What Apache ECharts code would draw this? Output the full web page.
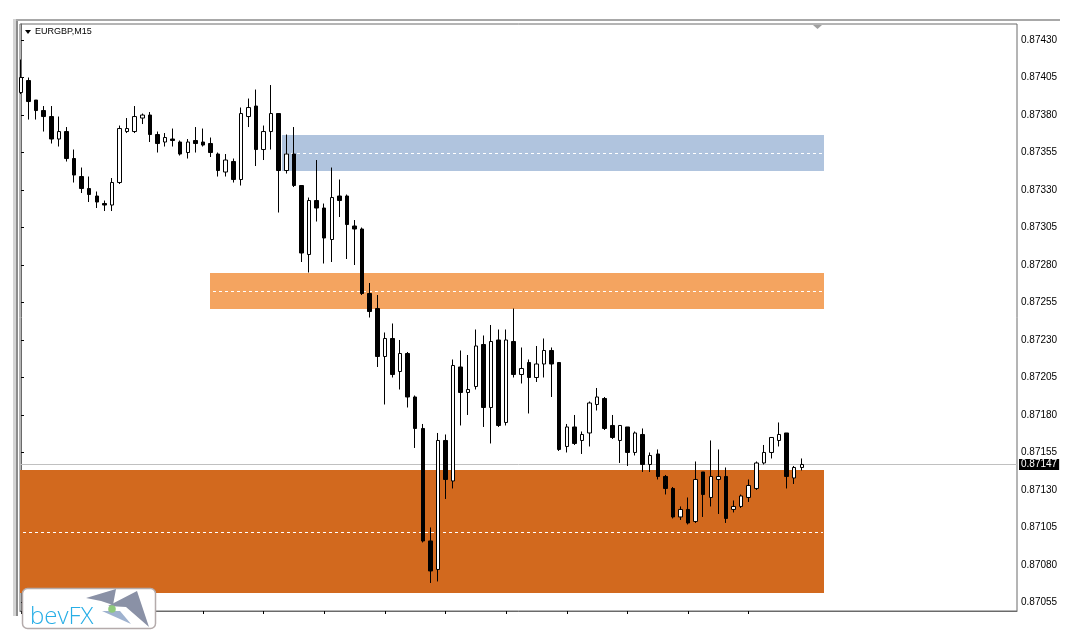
<!DOCTYPE html>
<html>
<head>
<meta charset="utf-8">
<script src="https://cdn.jsdelivr.net/npm/echarts@6/dist/echarts.min.js"></script>
<style>
html,body{margin:0;padding:0;background:#fff;}
#chart{width:1075px;height:640px;}
</style>
</head>
<body>
<div id="chart"></div>
<script>
// ---- data (EURGBP M15) ----
const symbol = 'EURGBP,M15';
const opens  = [0.87395,0.87403,0.87390,0.87383,0.87379,0.87364,0.87369,0.87351,0.87339,0.87331,0.87326,0.87321,0.87320,0.87335,0.87369,0.87369,0.87378,0.87380,0.87367,0.87362,0.87364,0.87362,0.87355,0.87363,0.87362,0.87361,0.87354,0.87342,0.87349,0.87337,0.87379,0.87386,0.87357,0.87369,0.87381,0.87343,0.87354,0.87333,0.87287,0.87323,0.87318,0.87297,0.87326,0.87326,0.87306,0.87304,0.87261,0.87251,0.87219,0.87231,0.87209,0.87221,0.87192,0.87171,0.87096,0.87077,0.87163,0.87136,0.87212,0.87195,0.87199,0.87227,0.87185,0.87230,0.87175,0.87229,0.87207,0.87215,0.87205,0.87214,0.87223,0.87215,0.87159,0.87172,0.87163,0.87168,0.87187,0.87191,0.87173,0.87163,0.87172,0.87155,0.87167,0.87147,0.87154,0.87139,0.87131,0.87112,0.87117,0.87109,0.87142,0.87125,0.87137,0.87139,0.87117,0.87119,0.87125,0.87131,0.87148,0.87155,0.87163,0.87168,0.87138,0.87145];
const highs  = [0.87417,0.87405,0.87390,0.87386,0.87386,0.87379,0.87372,0.87357,0.87345,0.87339,0.87329,0.87323,0.87338,0.87373,0.87378,0.87386,0.87381,0.87382,0.87369,0.87368,0.87371,0.87363,0.87364,0.87372,0.87371,0.87365,0.87355,0.87354,0.87351,0.87385,0.87391,0.87397,0.87373,0.87400,0.87381,0.87367,0.87372,0.87333,0.87325,0.87350,0.87321,0.87345,0.87337,0.87327,0.87310,0.87305,0.87268,0.87260,0.87235,0.87241,0.87230,0.87222,0.87193,0.87174,0.87105,0.87168,0.87167,0.87217,0.87223,0.87220,0.87237,0.87233,0.87240,0.87237,0.87237,0.87251,0.87225,0.87217,0.87226,0.87231,0.87225,0.87215,0.87174,0.87180,0.87169,0.87189,0.87198,0.87192,0.87180,0.87173,0.87172,0.87169,0.87171,0.87155,0.87157,0.87140,0.87132,0.87119,0.87125,0.87149,0.87142,0.87163,0.87157,0.87145,0.87123,0.87127,0.87137,0.87149,0.87160,0.87165,0.87175,0.87168,0.87146,0.87151];
const lows   = [0.87394,0.87377,0.87377,0.87369,0.87361,0.87359,0.87349,0.87335,0.87328,0.87322,0.87318,0.87316,0.87316,0.87334,0.87368,0.87368,0.87374,0.87362,0.87355,0.87359,0.87359,0.87353,0.87351,0.87355,0.87359,0.87352,0.87339,0.87339,0.87335,0.87333,0.87372,0.87346,0.87350,0.87357,0.87315,0.87341,0.87332,0.87282,0.87275,0.87309,0.87281,0.87282,0.87312,0.87284,0.87280,0.87260,0.87245,0.87212,0.87187,0.87205,0.87197,0.87185,0.87158,0.87095,0.87068,0.87069,0.87124,0.87131,0.87173,0.87180,0.87197,0.87172,0.87161,0.87172,0.87173,0.87205,0.87201,0.87181,0.87202,0.87205,0.87192,0.87156,0.87155,0.87160,0.87154,0.87159,0.87183,0.87170,0.87164,0.87148,0.87146,0.87153,0.87142,0.87142,0.87137,0.87127,0.87111,0.87110,0.87107,0.87108,0.87112,0.87119,0.87114,0.87108,0.87115,0.87118,0.87122,0.87130,0.87147,0.87151,0.87159,0.87131,0.87134,0.87143];
const closes = [0.87405,0.87389,0.87383,0.87379,0.87364,0.87369,0.87351,0.87340,0.87331,0.87327,0.87322,0.87320,0.87335,0.87371,0.87371,0.87379,0.87380,0.87367,0.87361,0.87365,0.87363,0.87354,0.87362,0.87361,0.87360,0.87355,0.87343,0.87350,0.87337,0.87381,0.87385,0.87357,0.87369,0.87381,0.87343,0.87354,0.87333,0.87288,0.87323,0.87318,0.87298,0.87325,0.87323,0.87307,0.87304,0.87261,0.87249,0.87219,0.87231,0.87207,0.87221,0.87192,0.87171,0.87096,0.87076,0.87163,0.87137,0.87213,0.87195,0.87197,0.87226,0.87185,0.87229,0.87173,0.87230,0.87207,0.87211,0.87205,0.87214,0.87223,0.87214,0.87157,0.87172,0.87161,0.87167,0.87188,0.87192,0.87171,0.87165,0.87173,0.87155,0.87168,0.87147,0.87153,0.87139,0.87131,0.87112,0.87117,0.87108,0.87137,0.87127,0.87139,0.87139,0.87111,0.87119,0.87126,0.87133,0.87148,0.87155,0.87165,0.87167,0.87139,0.87145,0.87147];

// price-axis tick labels
const yTicks = [0.87055,0.87080,0.87105,0.87130,0.87155,0.87180,0.87205,0.87230,0.87255,0.87280,0.87305,0.87330,0.87355,0.87380,0.87405,0.87430];
// time-axis tick marks (bar indices)
const xTicks = [0,8,16,24,32,40,48,56,64,72,80,88,96];

// rectangles (support / resistance zones): bar index start/end, low, high, mid
const zoneStart = [34.45, 24.95, -2];
const zoneEnd   = [105.9, 105.9, 105.9];
const zoneLow   = [0.87343, 0.87251, 0.87061];
const zoneHigh  = [0.87367, 0.87275, 0.87143];
const zoneMid   = [0.87355, 0.87263, 0.87102];
const zoneColors = ['#B0C4DE', '#F4A460', '#D2691E'];

const lastPrice = closes[closes.length - 1];

// ---- build ----
const candleData = opens.map((o, i) => [i, o, closes[i], lows[i], highs[i]]);
const zoneData = zoneStart.map((s, i) => [s, zoneEnd[i], zoneLow[i], zoneHigh[i], zoneMid[i]]);
const FONT = '"Liberation Sans", Arial, sans-serif';

const chart = echarts.init(document.getElementById('chart'), null, {renderer: 'canvas'});
chart.setOption({
  animation: false,
  backgroundColor: '#ffffff',
  grid: {left: 20, right: 58, top: 24, bottom: 29, show: true, borderColor: '#6a6a6a', borderWidth: 1, backgroundColor: '#fff'},
  xAxis: {
    type: 'value', min: -0.132, max: 131.39,
    axisLine: {show: true, lineStyle: {color: '#6a6a6a'}},
    axisTick: {show: true, customValues: xTicks, length: 3, lineStyle: {color: '#000'}},
    axisLabel: {show: false},
    splitLine: {show: false}
  },
  yAxis: {
    type: 'value', position: 'right', min: 0.870493, max: 0.874407, scale: true,
    axisLine: {show: true, lineStyle: {color: '#6a6a6a'}},
    axisTick: {show: true, customValues: yTicks, length: 3, lineStyle: {color: '#000'}},
    axisLabel: {show: true, customValues: yTicks, formatter: v => v.toFixed(5), color: '#000', fontSize: 10, fontFamily: FONT, margin: 4},
    splitLine: {show: false}
  },
  series: [
    {
      type: 'custom', name: 'zones', z: 1, clip: true,
      encode: {x: [0, 1], y: [2, 3, 4]},
      data: zoneData,
      renderItem: function (params, api) {
        const cs = params.coordSys;
        const a = api.coord([api.value(0), api.value(3)]);
        const b = api.coord([api.value(1), api.value(2)]);
        const m = api.coord([api.value(0), api.value(4)]);
        const x0 = Math.max(a[0], cs.x), x1 = b[0];
        const my = Math.round(m[1]) + 0.5;
        return {
          type: 'group',
          children: [
            {type: 'rect', shape: {x: Math.round(x0), y: Math.round(a[1]), width: Math.round(x1) - Math.round(x0), height: Math.round(b[1]) - Math.round(a[1])}, style: {fill: zoneColors[params.dataIndex]}},
            {type: 'line', shape: {x1: Math.round(x0) + 3, y1: my, x2: Math.round(x1) - 1, y2: my}, style: {stroke: '#ffffff', lineWidth: 1, lineDash: [3, 3]}}
          ]
        };
      }
    },
    {
      type: 'custom', name: 'price', z: 2, clip: false,
      encode: {x: 0, y: 1},
      data: [[0, lastPrice]],
      renderItem: function (params, api) {
        const cs = params.coordSys;
        const p = api.coord([0, api.value(1)]);
        const y = Math.round(p[1]) + 0.5;
        return {
          type: 'group',
          children: [
            {type: 'line', shape: {x1: cs.x, y1: y, x2: cs.x + cs.width, y2: y}, style: {stroke: '#c0c0c0', lineWidth: 1}},
            {type: 'text', x: cs.x + cs.width + 2, y: y, style: {text: api.value(1).toFixed(5), fill: '#ffffff', font: '10px ' + FONT, align: 'left', verticalAlign: 'middle', backgroundColor: '#000000', padding: [1, 2, 0, 2]}}
          ]
        };
      }
    },
    {
      type: 'candlestick', name: symbol, z: 3,
      encode: {x: 0, y: [1, 2, 3, 4]},
      data: candleData,
      barWidth: 4,
      itemStyle: {color: '#ffffff', color0: '#000000', borderColor: '#000000', borderColor0: '#000000', borderColorDoji: '#000000', borderWidth: 1}
    }
  ],
  graphic: [
    // window frame
    {type: 'rect', shape: {x: 13, y: 19, width: 1047, height: 2}, style: {fill: '#a8a8a8'}, silent: true},
    {type: 'rect', shape: {x: 13, y: 19, width: 3, height: 597}, style: {fill: '#d4d4d4'}, silent: true},
    {type: 'rect', shape: {x: 16, y: 21, width: 2, height: 595}, style: {fill: '#8c8c8c'}, silent: true},
    // chart-shift marker
    {type: 'polygon', shape: {points: [[813, 25], [822, 25], [817.5, 29]]}, style: {fill: '#a0a0a0'}, silent: true},
    // symbol title
    {type: 'polygon', shape: {points: [[25, 30], [31, 30], [28, 34]]}, style: {fill: '#000'}, silent: true},
    {type: 'text', x: 35, y: 32, style: {text: symbol, fill: '#000', font: '9px ' + FONT, align: 'left', verticalAlign: 'middle'}, silent: true},
    // logo
    {type: 'rect', shape: {x: 22.5, y: 588.5, width: 133, height: 40, r: 5}, style: {fill: '#ffffff', stroke: '#b4abab', lineWidth: 1.5}, silent: true, z: 10},
    {type: 'text', x: 30, y: 617, style: {text: 'bevFX', fill: '#27aee6', font: '300 24px "Open Sans", sans-serif', align: 'left', verticalAlign: 'middle'}, silent: true, z: 11},
    {type: 'polygon', shape: {points: [[86, 598], [116, 589], [113, 605], [101, 601]]}, style: {fill: '#8a91a6'}, silent: true, z: 11},
    {type: 'polygon', shape: {points: [[108, 606], [137, 591], [149, 627], [126, 607]]}, style: {fill: '#8a91a6'}, silent: true, z: 11},
    {type: 'polygon', shape: {points: [[102, 611], [120, 611], [131, 624]]}, style: {fill: '#9fb2cf'}, silent: true, z: 11},
    {type: 'circle', shape: {cx: 112, cy: 609, r: 3.8}, style: {fill: '#8fca7c'}, silent: true, z: 12}
  ]
});
</script>
</body>
</html>
